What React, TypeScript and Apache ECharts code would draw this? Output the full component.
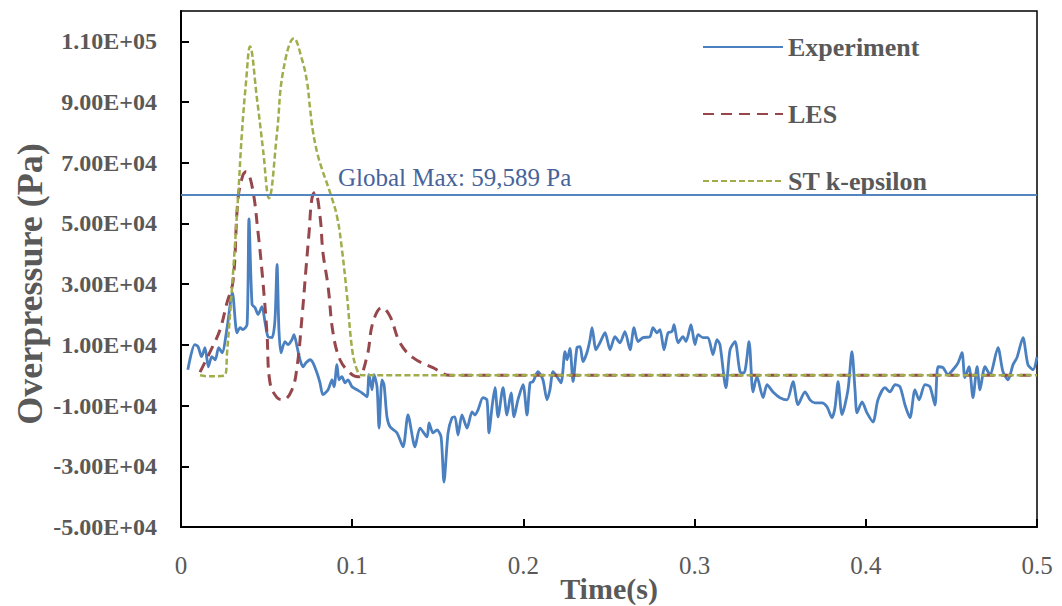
import React, { useEffect, useRef } from 'react';
import * as echarts from 'echarts';

// Axis ticks
const xTicks = [0, 0.1, 0.2, 0.3, 0.4, 0.5];
const yTickValues = [-50000, -30000, -10000, 10000, 30000, 50000, 70000, 90000, 110000];
const seriesNames = ['Experiment', 'LES', 'ST k-epsilon'];
const globalMax = 59589;

// [time (s), overpressure (Pa)]
const experiment: [number, number][] = [
  [0.004, 1800], [0.008, 10100], [0.010, 9400], [0.012, 6100], [0.014, 9100], [0.016, 2800],
  [0.018, 6100], [0.020, 5100], [0.022, 9100], [0.024, 7400], [0.027, 16000], [0.030, 27300],
  [0.0327, 14000], [0.0345, 15700], [0.0362, 15000], [0.0386, 16700], [0.0397, 51500],
  [0.0415, 23300], [0.0432, 22300], [0.045, 20000], [0.0473, 22600], [0.0491, 17400],
  [0.0508, 12700], [0.0532, 12400], [0.0549, 18300], [0.0561, 36500], [0.0572, 15000],
  [0.0584, 7400], [0.0607, 11100], [0.0625, 10100], [0.0648, 11700], [0.066, 13400],
  [0.0678, 9400], [0.0695, 5100], [0.0713, 2800], [0.073, 4100], [0.0754, 5100], [0.0771, 4100],
  [0.0794, 800], [0.0812, -2500], [0.0829, -6400], [0.0859, -4800], [0.0882, -1500],
  [0.0894, -3800], [0.0911, 3500], [0.0923, -1500], [0.094, -500], [0.0958, -2500],
  [0.0975, -1500], [0.0999, -3800], [0.1028, -4800], [0.1057, -5800], [0.1086, -7100],
  [0.1098, 200], [0.1116, -4800], [0.1127, 200], [0.1145, -3800], [0.1157, -17400],
  [0.1174, -1500], [0.1186, -3100], [0.1203, -13700], [0.1221, -17000], [0.1262, -19000],
  [0.1297, -23600], [0.1326, -13100], [0.1367, -23600], [0.1396, -17400], [0.1437, -20300],
  [0.1449, -15700], [0.1472, -19000], [0.1495, -18000], [0.1519, -20300], [0.1536, -35200],
  [0.156, -19000], [0.1583, -14000], [0.16, -13700], [0.1618, -19700], [0.1641, -13100],
  [0.1671, -17400], [0.17, -12100], [0.1717, -13100], [0.1735, -11400], [0.1764, -7400],
  [0.1787, -8100], [0.1799, -19000], [0.1817, -10400], [0.1834, -4100], [0.1852, -13700],
  [0.1881, -4100], [0.1904, -13100], [0.1928, -5800], [0.1945, -13700], [0.1968, -8100],
  [0.1998, -3100], [0.2021, -13100], [0.2039, -2500], [0.2056, -2100], [0.2085, 1200],
  [0.2114, -1500], [0.2138, -8100], [0.2155, -4800], [0.2173, 1200], [0.2196, -500],
  [0.222, -2500], [0.2243, 7800], [0.2255, 5100], [0.2272, 8800], [0.229, -2100],
  [0.2313, 9100], [0.2331, 9400], [0.2348, 4500], [0.2371, 7400], [0.2389, 11700],
  [0.2401, 15700], [0.2424, 8400], [0.2447, 10700], [0.2477, 14000], [0.2506, 8400],
  [0.2535, 12700], [0.2564, 10700], [0.2593, 14400], [0.2623, 8400], [0.2646, 15700],
  [0.2669, 11100], [0.2699, 12400], [0.2739, 12700], [0.2757, 15700], [0.278, 14000],
  [0.2798, 15000], [0.2821, 8400], [0.2845, 14000], [0.2868, 14400], [0.288, 16700],
  [0.2903, 10700], [0.2932, 12700], [0.295, 11100], [0.2979, 16700], [0.3002, 10100],
  [0.302, 13400], [0.3049, 12400], [0.3078, 12400], [0.3107, 6800], [0.3131, 11700],
  [0.3148, 10100], [0.3183, -4100], [0.3207, 8400], [0.3236, 11100], [0.3265, 1200],
  [0.3289, 800], [0.3318, 11100], [0.3341, -5500], [0.3364, -500], [0.34, -7400],
  [0.3423, -3100], [0.3458, -5500], [0.3499, -7400], [0.354, -8100], [0.3575, -2100],
  [0.3604, -9700], [0.3645, -5500], [0.3674, -8100], [0.3703, -9100], [0.3744, -9100],
  [0.3773, -10400], [0.3803, -14000], [0.382, -10700], [0.3838, -2100], [0.3861, -13000],
  [0.3896, -4800], [0.3919, 7800], [0.3937, -4800], [0.3949, -12400], [0.3978, -8800],
  [0.4007, -12400], [0.4042, -15400], [0.4071, -8100], [0.4112, -4100], [0.4141, -5500],
  [0.4171, -3100], [0.42, -3800], [0.4229, -9800], [0.4258, -14000], [0.4287, -4800],
  [0.4311, -8100], [0.4346, -3100], [0.4375, -3800], [0.4404, -9800], [0.4422, 2800],
  [0.4451, 2500], [0.448, 200], [0.4509, 1800], [0.4539, 4100], [0.4562, 7400],
  [0.4579, -800], [0.4603, 2800], [0.4626, -7400], [0.465, 2800], [0.4667, -4800],
  [0.4696, 2800], [0.4725, 200], [0.4772, 9100], [0.4801, 1200], [0.4831, -1500],
  [0.486, 3500], [0.4883, 5800], [0.4918, 12400], [0.4947, 3500], [0.4977, 1800], [0.5, 6000],
];

const les: [number, number][] = [
  [0.0111, 1000], [0.0181, 9000], [0.0228, 15000], [0.0269, 24000], [0.0304, 31000],
  [0.0333, 58000], [0.0362, 66000], [0.038, 67000], [0.0415, 62300], [0.045, 47100],
  [0.0479, 30500], [0.0502, 14000], [0.052, -2500], [0.0561, -7400], [0.0596, -8100],
  [0.0648, -4800], [0.0678, 2800], [0.0707, 19300], [0.073, 35000], [0.0748, 47000],
  [0.0765, 58300], [0.0783, 60300], [0.0812, 52400], [0.0829, 40500], [0.0859, 29300],
  [0.0888, 14000], [0.0929, 5100], [0.0987, 800], [0.1034, -500], [0.1086, 6100],
  [0.1121, 17400], [0.1174, 22300], [0.1221, 19400], [0.1279, 10700], [0.1355, 5800],
  [0.1472, 2500], [0.1571, 0], [0.5, 0],
];

const stKEpsilon: [number, number][] = [
  [0.0111, 0], [0.015, -300], [0.02, -300], [0.0257, 0], [0.0269, 7400], [0.0298, 29000],
  [0.0333, 58300], [0.0356, 80000], [0.038, 96700], [0.0403, 108300], [0.0444, 91000],
  [0.0479, 74500], [0.0514, 58300], [0.0561, 80000], [0.0596, 100000], [0.066, 111000],
  [0.0707, 104000], [0.0736, 96700], [0.0754, 87800], [0.0771, 80200], [0.08, 72300],
  [0.0829, 67000], [0.087, 60300], [0.0911, 52400], [0.094, 41500], [0.097, 26000],
  [0.1, 8400], [0.1028, 1800], [0.1057, 0], [0.5, 0],
];

const FONT = "'Liberation Serif', 'Times New Roman', serif";
const GREY = '#595959';

function sci(v: number): string {
  const [m, e] = v.toExponential(2).split('e');
  const n = parseInt(e, 10);
  return `${m}E${n < 0 ? '-' : '+'}${String(Math.abs(n)).padStart(2, '0')}`;
}

export default function App() {
  const ref = useRef<HTMLDivElement>(null);

  useEffect(() => {
    if (!ref.current) return;
    const chart = echarts.init(ref.current, undefined, { renderer: 'svg' });
    chart.setOption({
      animation: false,
      backgroundColor: '#ffffff',
      grid: {
        left: 181, right: 25, top: 11, bottom: 79,
        outerBoundsMode: 'none',
        containLabel: false,
        show: true, borderColor: '#000', borderWidth: 1.5, backgroundColor: 'transparent',
      },
      legend: {
        orient: 'vertical',
        left: 697,
        top: 29,
        itemWidth: 80,
        itemHeight: 14,
        itemGap: 41,
        data: seriesNames,
        itemStyle: { opacity: 0 },
        textStyle: { fontFamily: FONT, fontSize: 26, fontWeight: 'bold', color: GREY },
      },
      xAxis: {
        type: 'value',
        min: xTicks[0],
        max: xTicks[xTicks.length - 1],
        interval: 0.1,
        name: 'Time(s)',
        nameLocation: 'middle',
        nameGap: 46,
        nameMoveOverlap: false,
        nameTextStyle: { fontFamily: FONT, fontSize: 30, fontWeight: 'bold', color: GREY },
        axisLine: { onZero: false, lineStyle: { color: '#000', width: 2 } },
        axisTick: { inside: true, length: 8, lineStyle: { color: '#000', width: 2 } },
        splitLine: { show: false },
        axisLabel: {
          margin: 26,
          fontFamily: FONT,
          fontSize: 25,
          color: GREY,
          formatter: (v: number) => (v === 0 ? '0' : v.toFixed(1)),
        },
      },
      yAxis: {
        type: 'value',
        min: -50000,
        max: 120000,
        name: 'Overpressure (Pa)',
        nameLocation: 'middle',
        nameGap: 133,
        nameMoveOverlap: false,
        nameTextStyle: { fontFamily: FONT, fontSize: 36, fontWeight: 'bold', color: GREY, padding: [0, 30, 0, 0] },
        axisLine: { show: true, onZero: false, lineStyle: { color: '#000', width: 2 } },
        axisTick: { show: true, inside: true, length: 8, customValues: yTickValues, lineStyle: { color: '#000', width: 2 } },
        splitLine: { show: false },
        axisLabel: {
          customValues: yTickValues,
          margin: 24,
          fontFamily: FONT,
          fontSize: 24,
          fontWeight: 'bold',
          color: GREY,
          formatter: (v: number) => sci(v),
        },
      },
      series: [
        {
          name: seriesNames[0],
          type: 'line',
          data: experiment,
          smooth: 0.25,
          symbol: 'none',
          showSymbol: false,
          lineStyle: { color: '#4a7fc0', width: 2.8 },
          itemStyle: { color: '#4a7fc0' },
          markLine: {
            silent: true,
            symbol: 'none',
            lineStyle: { color: '#5585bd', width: 2, type: 'solid' },
            label: {
              show: true,
              position: 'insideStartTop',
              distance: [157, 4],
              formatter: 'Global Max: 59,589 Pa',
              fontFamily: FONT,
              fontSize: 25,
              color: '#46639a',
            },
            data: [{ yAxis: globalMax }],
          },
        },
        {
          name: seriesNames[1],
          type: 'line',
          data: les,
          smooth: 0.4,
          symbol: 'none',
          showSymbol: false,
          lineStyle: { color: '#96474c', width: 3, type: [11, 7] },
          itemStyle: { color: '#96474c' },
        },
        {
          name: seriesNames[2],
          type: 'line',
          data: stKEpsilon,
          smooth: 0.4,
          symbol: 'none',
          showSymbol: false,
          lineStyle: { color: '#a0ad4a', width: 2.5, type: [6, 3] },
          itemStyle: { color: '#a0ad4a' },
        },
      ],
    });
    return () => chart.dispose();
  }, []);

  return (
    <div
      ref={ref}
      style={{ position: 'absolute', left: 0, top: 0, width: 1062, height: 606, background: '#fff' }}
    />
  );
}
